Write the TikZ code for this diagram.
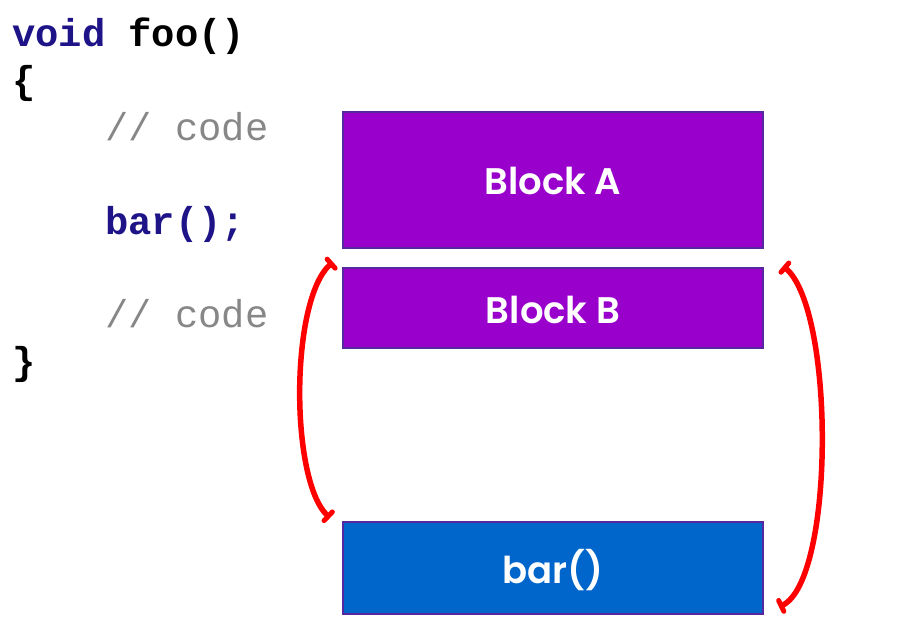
\documentclass[tikz,border=0pt]{standalone}
\usepackage{fontspec}
\setmonofont{Liberation Mono}
\newfontfamily\blockfont{Poppins}[BoldFont={* SemiBold}]
\usetikzlibrary{arrows.meta}
\definecolor{blockpurple}{RGB}{153,0,204}
\definecolor{blockblue}{RGB}{0,102,204}
\definecolor{blockedge}{RGB}{85,40,160}
\definecolor{kwnavy}{RGB}{30,20,135}
\definecolor{cmtgray}{RGB}{135,135,135}
\definecolor{bracered}{RGB}{255,0,0}
\tikzset{
  codeline/.style={anchor=base west, inner sep=0pt, font=\fontsize{38.8}{46.8}\selectfont\ttfamily},
  blockbox/.style={draw=blockedge, line width=1.8pt, inner sep=0pt},
  blocklabel/.style={text=white, inner sep=0pt, anchor=base, font=\fontsize{37}{40}\selectfont\blockfont\bfseries},
  bracket/.style={draw=bracered, line width=5.5pt, line cap=round, {Bar[width=12pt,line width=5pt,round]}-{Bar[width=12pt,line width=5pt,round]}}
}
\begin{document}
\begin{tikzpicture}[x=1pt,y=-1pt]
\useasboundingbox (0,0) rectangle (910,631);
% code
\node[codeline] (l1) at (12,47) {\textbf{\textcolor{kwnavy}{void} foo()}};
\node[codeline] (l2) at (12,93.8) {\textbf{\{}};
\node[codeline] (l3) at (12,140.6) {\phantom{xxxx}\textcolor{cmtgray}{// code}};
\node[codeline] (l5) at (12,234.2) {\phantom{xxxx}\textbf{\textcolor{kwnavy}{bar();}}};
\node[codeline] (l7) at (12,327.8) {\phantom{xxxx}\textcolor{cmtgray}{// code}};
\node[codeline] (l8) at (12,374.6) {\textbf{\}}};
% blocks
\path[blockbox, fill=blockpurple] (343,112) rectangle (763,248);
\path[blockbox, fill=blockpurple] (343,268) rectangle (763,348);
\path[blockbox, fill=blockblue] (343,522) rectangle (763,614);
\node[blocklabel] (ta) at (553,195) {Block A};
\node[blocklabel] (tb) at (553,323) {Block B};
\node[blocklabel] (tc) at (553,583) {bar()};
% brackets
\coordinate (lt) at (333,262);
\coordinate (lb) at (330,518);
\coordinate (rt) at (783,266);
\coordinate (rb) at (779,607);
\draw[bracket] (lt) .. controls (290,300) and (290,480) .. (lb);
\draw[bracket] (rt) .. controls (835,310) and (835,580) .. (rb);
\end{tikzpicture}
\end{document}
